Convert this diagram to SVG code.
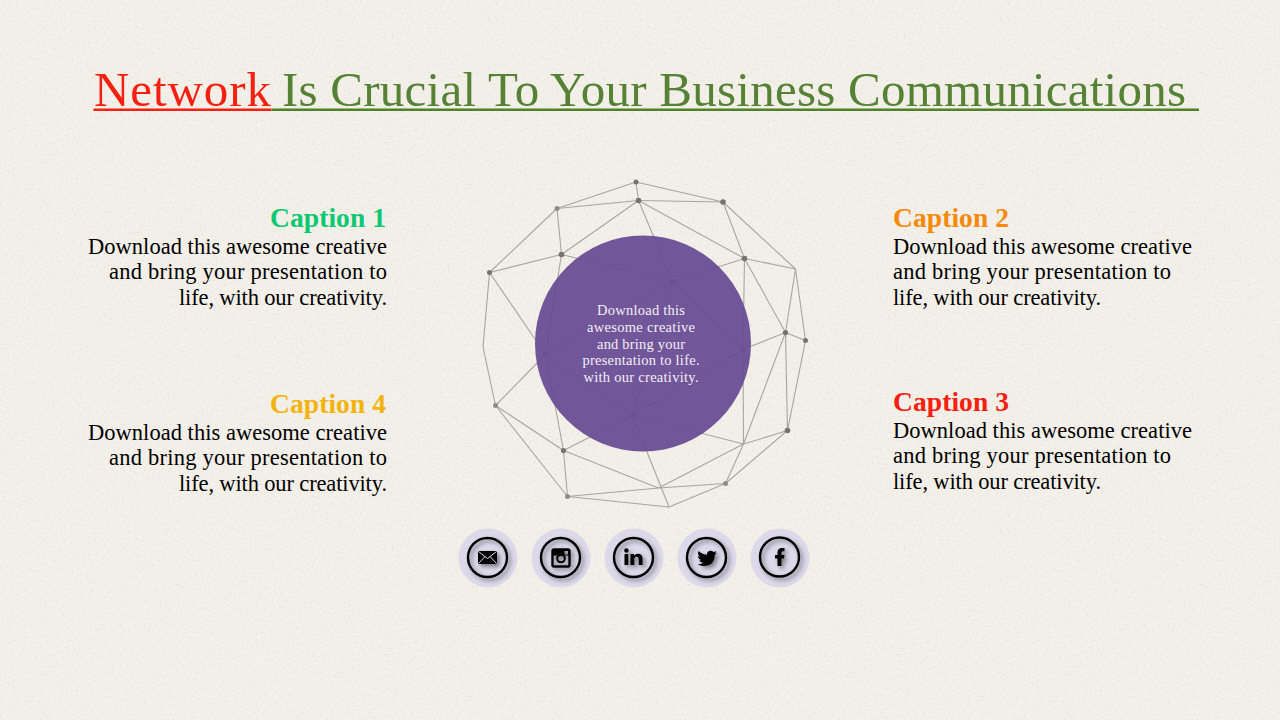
<svg xmlns="http://www.w3.org/2000/svg" width="1280" height="720" viewBox="0 0 1280 720">
<style>
text{font-family:"Liberation Serif","DejaVu Serif",serif}
.body{font-size:22.500px;fill:#000}
.cap{font-size:27.500px;font-weight:700}
.title{font-size:49px}
.mid{font-size:14.500px;fill:#f3eff6;text-anchor:middle}
.e line{stroke:#a8a59f;stroke-width:1.1}
.n{fill:#77726e}
.disc{fill:#dcd9ea}
.ring{fill:none;stroke:#000;stroke-width:2.400}
.ic{fill:#000}
</style>
<defs>
<filter id="paper" x="0" y="0" width="100%" height="100%">
<feTurbulence type="fractalNoise" baseFrequency="0.5" numOctaves="4" seed="11"/>
<feColorMatrix values="0 0 0 0 0.70  0 0 0 0 0.66  0 0 0 0 0.58  0 0 0 1.6 -0.86"/>
</filter>
<filter id="sh" x="-30%" y="-30%" width="170%" height="170%">
<feDropShadow dx="2.500" dy="2.500" stdDeviation="2" flood-color="#000" flood-opacity="0.45"/>
</filter>
</defs>
<rect width="1280" height="720" fill="#f3efe9"/>
<rect width="1280" height="720" filter="url(#paper)"/>

<g id="title">
<text class="title" x="94" y="106" fill="#f5200f" textLength="177" lengthAdjust="spacing">Network</text>
<text class="title" x="282" y="106" fill="#558234" textLength="904" lengthAdjust="spacing">Is Crucial To Your Business Communications</text>
<rect x="93.500" y="108.500" width="178" height="2.500" fill="#f5200f"/>
<rect x="271.500" y="108.500" width="927.500" height="2.500" fill="#4f8128"/>
</g>

<g id="connectors" class="e">
<line x1="636" y1="182" x2="638.500" y2="200.500"/>
<line x1="636" y1="182" x2="557" y2="208.500"/>
<line x1="636" y1="182" x2="723" y2="202"/>
<line x1="557" y1="208.500" x2="638.500" y2="200.500"/>
<line x1="638.500" y1="200.500" x2="723" y2="202"/>
<line x1="557" y1="208.500" x2="489.500" y2="272.500"/>
<line x1="557" y1="208.500" x2="561.500" y2="254.500"/>
<line x1="561.500" y1="254.500" x2="638.500" y2="200.500"/>
<line x1="561.500" y1="254.500" x2="489.500" y2="272.500"/>
<line x1="638.500" y1="200.500" x2="672.500" y2="281.500"/>
<line x1="638.500" y1="200.500" x2="744.500" y2="258.500"/>
<line x1="723" y1="202" x2="744.500" y2="258.500"/>
<line x1="723" y1="202" x2="795.500" y2="269"/>
<line x1="744.500" y1="258.500" x2="795.500" y2="269"/>
<line x1="744.500" y1="258.500" x2="672.500" y2="281.500"/>
<line x1="561.500" y1="254.500" x2="672.500" y2="281.500"/>
<line x1="489.500" y1="272.500" x2="483" y2="347"/>
<line x1="489.500" y1="272.500" x2="545.500" y2="354.500"/>
<line x1="561.500" y1="254.500" x2="545.500" y2="354.500"/>
<line x1="545.500" y1="354.500" x2="672.500" y2="281.500"/>
<line x1="672.500" y1="281.500" x2="743" y2="349.500"/>
<line x1="672.500" y1="281.500" x2="632.500" y2="415.500"/>
<line x1="744.500" y1="258.500" x2="743" y2="349.500"/>
<line x1="744.500" y1="258.500" x2="785.500" y2="332.500"/>
<line x1="795.500" y1="269" x2="785.500" y2="332.500"/>
<line x1="795.500" y1="269" x2="805.500" y2="340.500"/>
<line x1="785.500" y1="332.500" x2="805.500" y2="340.500"/>
<line x1="785.500" y1="332.500" x2="743" y2="349.500"/>
<line x1="785.500" y1="332.500" x2="743.500" y2="444"/>
<line x1="785.500" y1="332.500" x2="787.500" y2="430.500"/>
<line x1="805.500" y1="340.500" x2="787.500" y2="430.500"/>
<line x1="743" y1="349.500" x2="632.500" y2="415.500"/>
<line x1="743" y1="349.500" x2="743.500" y2="444"/>
<line x1="632.500" y1="415.500" x2="743.500" y2="444"/>
<line x1="545.500" y1="354.500" x2="632.500" y2="415.500"/>
<line x1="545.500" y1="354.500" x2="563.500" y2="450.500"/>
<line x1="545.500" y1="354.500" x2="495.500" y2="405.500"/>
<line x1="483" y1="347" x2="495.500" y2="405.500"/>
<line x1="495.500" y1="405.500" x2="563.500" y2="450.500"/>
<line x1="495.500" y1="405.500" x2="567.500" y2="496.500"/>
<line x1="563.500" y1="450.500" x2="632.500" y2="415.500"/>
<line x1="563.500" y1="450.500" x2="658.500" y2="488"/>
<line x1="563.500" y1="450.500" x2="567.500" y2="496.500"/>
<line x1="567.500" y1="496.500" x2="658.500" y2="488"/>
<line x1="658.500" y1="488" x2="725.500" y2="483.500"/>
<line x1="567.500" y1="496.500" x2="669" y2="507"/>
<line x1="669" y1="507" x2="725.500" y2="483.500"/>
<line x1="632.500" y1="415.500" x2="669" y2="507"/>
<line x1="743.500" y1="444" x2="658.500" y2="488"/>
<line x1="743.500" y1="444" x2="725.500" y2="483.500"/>
<line x1="743.500" y1="444" x2="787.500" y2="430.500"/>
<line x1="787.500" y1="430.500" x2="725.500" y2="483.500"/>
</g>

<g id="network-nodes" class="n">
<circle cx="636" cy="182" r="2.500"/>
<circle cx="638.500" cy="200.500" r="2.800"/>
<circle cx="723" cy="202" r="2.800"/>
<circle cx="557" cy="208.500" r="2.500" fill="#8f8b85"/>
<circle cx="561.500" cy="254.500" r="2.800"/>
<circle cx="744.500" cy="258.500" r="2.800"/>
<circle cx="489.500" cy="272.500" r="2.500"/>
<circle cx="672.500" cy="281.500" r="2.500"/>
<circle cx="785.500" cy="332.500" r="2.600"/>
<circle cx="805.500" cy="340.500" r="2.500"/>
<circle cx="743" cy="349.500" r="2.500"/>
<circle cx="545.500" cy="354.500" r="2.800"/>
<circle cx="495.500" cy="405.500" r="2.500" fill="#8f8b85"/>
<circle cx="632.500" cy="415.500" r="2.800"/>
<circle cx="563.500" cy="450.500" r="2.600"/>
<circle cx="787.500" cy="430.500" r="2.800"/>
<circle cx="725.500" cy="483.500" r="2.500" fill="#8f8b85"/>
<circle cx="567.500" cy="496.500" r="2.500" fill="#8f8b85"/>
</g>

<g id="center">
<circle cx="643" cy="343.500" r="108" fill="#694e95" fill-opacity="0.95"/>
<text class="mid" x="641" y="315" textLength="88" lengthAdjust="spacing">Download this</text>
<text class="mid" x="641" y="332" textLength="108" lengthAdjust="spacing">awesome creative</text>
<text class="mid" x="641" y="349" textLength="88" lengthAdjust="spacing">and bring your</text>
<text class="mid" x="641" y="365" textLength="117" lengthAdjust="spacing">presentation to life.</text>
<text class="mid" x="641" y="382" textLength="115" lengthAdjust="spacing">with our creativity.</text>
</g>

<g id="caption-1">
<text class="cap" x="386" y="227" text-anchor="end" fill="#0cc873" textLength="116" lengthAdjust="spacing">Caption 1</text>
<text class="body" x="88" y="254" textLength="299" lengthAdjust="spacing">Download this awesome creative</text>
<text class="body" x="387" y="279" text-anchor="end" textLength="278" lengthAdjust="spacing">and bring your presentation to</text>
<text class="body" x="387" y="305" text-anchor="end" textLength="208" lengthAdjust="spacing">life, with our creativity.</text>
</g>
<g id="caption-2">
<text class="cap" x="893" y="227" fill="#f58a0a" textLength="116" lengthAdjust="spacing">Caption 2</text>
<text class="body" x="893" y="254" textLength="299" lengthAdjust="spacing">Download this awesome creative</text>
<text class="body" x="893" y="279" textLength="278" lengthAdjust="spacing">and bring your presentation to</text>
<text class="body" x="893" y="305" textLength="208" lengthAdjust="spacing">life, with our creativity.</text>
</g>
<g id="caption-3">
<text class="cap" x="893" y="411" fill="#f5200f" textLength="116" lengthAdjust="spacing">Caption 3</text>
<text class="body" x="893" y="438" textLength="299" lengthAdjust="spacing">Download this awesome creative</text>
<text class="body" x="893" y="463" textLength="278" lengthAdjust="spacing">and bring your presentation to</text>
<text class="body" x="893" y="489" textLength="208" lengthAdjust="spacing">life, with our creativity.</text>
</g>
<g id="caption-4">
<text class="cap" x="386" y="413" text-anchor="end" fill="#f2b40c" textLength="116" lengthAdjust="spacing">Caption 4</text>
<text class="body" x="88" y="440" textLength="299" lengthAdjust="spacing">Download this awesome creative</text>
<text class="body" x="387" y="465" text-anchor="end" textLength="278" lengthAdjust="spacing">and bring your presentation to</text>
<text class="body" x="387" y="491" text-anchor="end" textLength="208" lengthAdjust="spacing">life, with our creativity.</text>
</g>

<g id="icon-mail">
<circle class="disc" cx="488" cy="558" r="29.500"/>
<g filter="url(#sh)">
<circle class="ring" cx="487.500" cy="557.500" r="19.500"/>
<rect class="ic" x="478" y="551" width="19" height="13" rx="1"/>
<path d="M478.500 551.500L487.500 558.500L496.500 551.500M478.500 563.500L485 556.500M496.500 563.500L490 556.500" fill="none" stroke="#dcd9ea" stroke-width="1"/>
</g>
</g>
<g id="icon-instagram">
<circle class="disc" cx="561" cy="558" r="29.500"/>
<g filter="url(#sh)">
<circle class="ring" cx="560.500" cy="557.500" r="19.500"/>
<rect x="552.500" y="549.500" width="17" height="17" rx="1.500" fill="none" stroke="#000" stroke-width="2.400"/>
<path class="ic" fill-rule="evenodd" d="M552.500 549.500H569.500V555.500H565A5.500 5.500 0 0 0 557 555.500H552.500ZM564.500 551V554.500H568V551Z"/>
<circle cx="561" cy="558.500" r="3.800" fill="none" stroke="#000" stroke-width="2"/>
</g>
</g>
<g id="icon-linkedin">
<circle class="disc" cx="634" cy="558" r="29.500"/>
<g filter="url(#sh)">
<circle class="ring" cx="633.500" cy="557.500" r="19.500"/>
<rect class="ic" x="624.500" y="554" width="3.800" height="11"/>
<circle class="ic" cx="626.400" cy="550.500" r="2.200"/>
<path class="ic" d="M630.500 554H634V555.800Q635.500 553.700 638 553.700Q642.500 553.700 642.500 558.800V565H638.700V559.500Q638.700 556.800 636.600 556.800Q634.300 556.800 634.300 559.500V565H630.500Z"/>
</g>
</g>
<g id="icon-twitter">
<circle class="disc" cx="707" cy="558" r="29.500"/>
<g filter="url(#sh)">
<circle class="ring" cx="706.500" cy="557.500" r="19.500"/>
<path class="ic" d="M717 552.500Q715.500 553.200 714.500 553.300Q716 552.300 716.300 551Q714.800 551.900 713.500 552.100Q712 550.500 710 550.700Q706.800 551.100 707 554.800Q702.500 554.700 698.500 551Q697 554.500 700 556.600Q699 556.600 698 556Q698.200 559.200 701.300 560.100Q700.300 560.400 699.300 560.200Q700.300 562.600 703.100 562.800Q700.700 564.700 697.500 564.300Q701 566.500 705 566Q714.800 564.800 714.800 554.700Q716 553.800 717 552.500Z"/>
</g>
</g>
<g id="icon-facebook">
<circle class="disc" cx="780" cy="558" r="29.500"/>
<g filter="url(#sh)">
<circle class="ring" cx="779.500" cy="557" r="19.500"/>
<path class="ic" d="M777.500 566V558.500H775V555H777.500V552.500Q777.500 548 782 548H784.500V551.300H782.800Q781.500 551.300 781.500 552.800V555H784.500L784 558.500H781.500V566Z"/>
</g>
</g>
</svg>
